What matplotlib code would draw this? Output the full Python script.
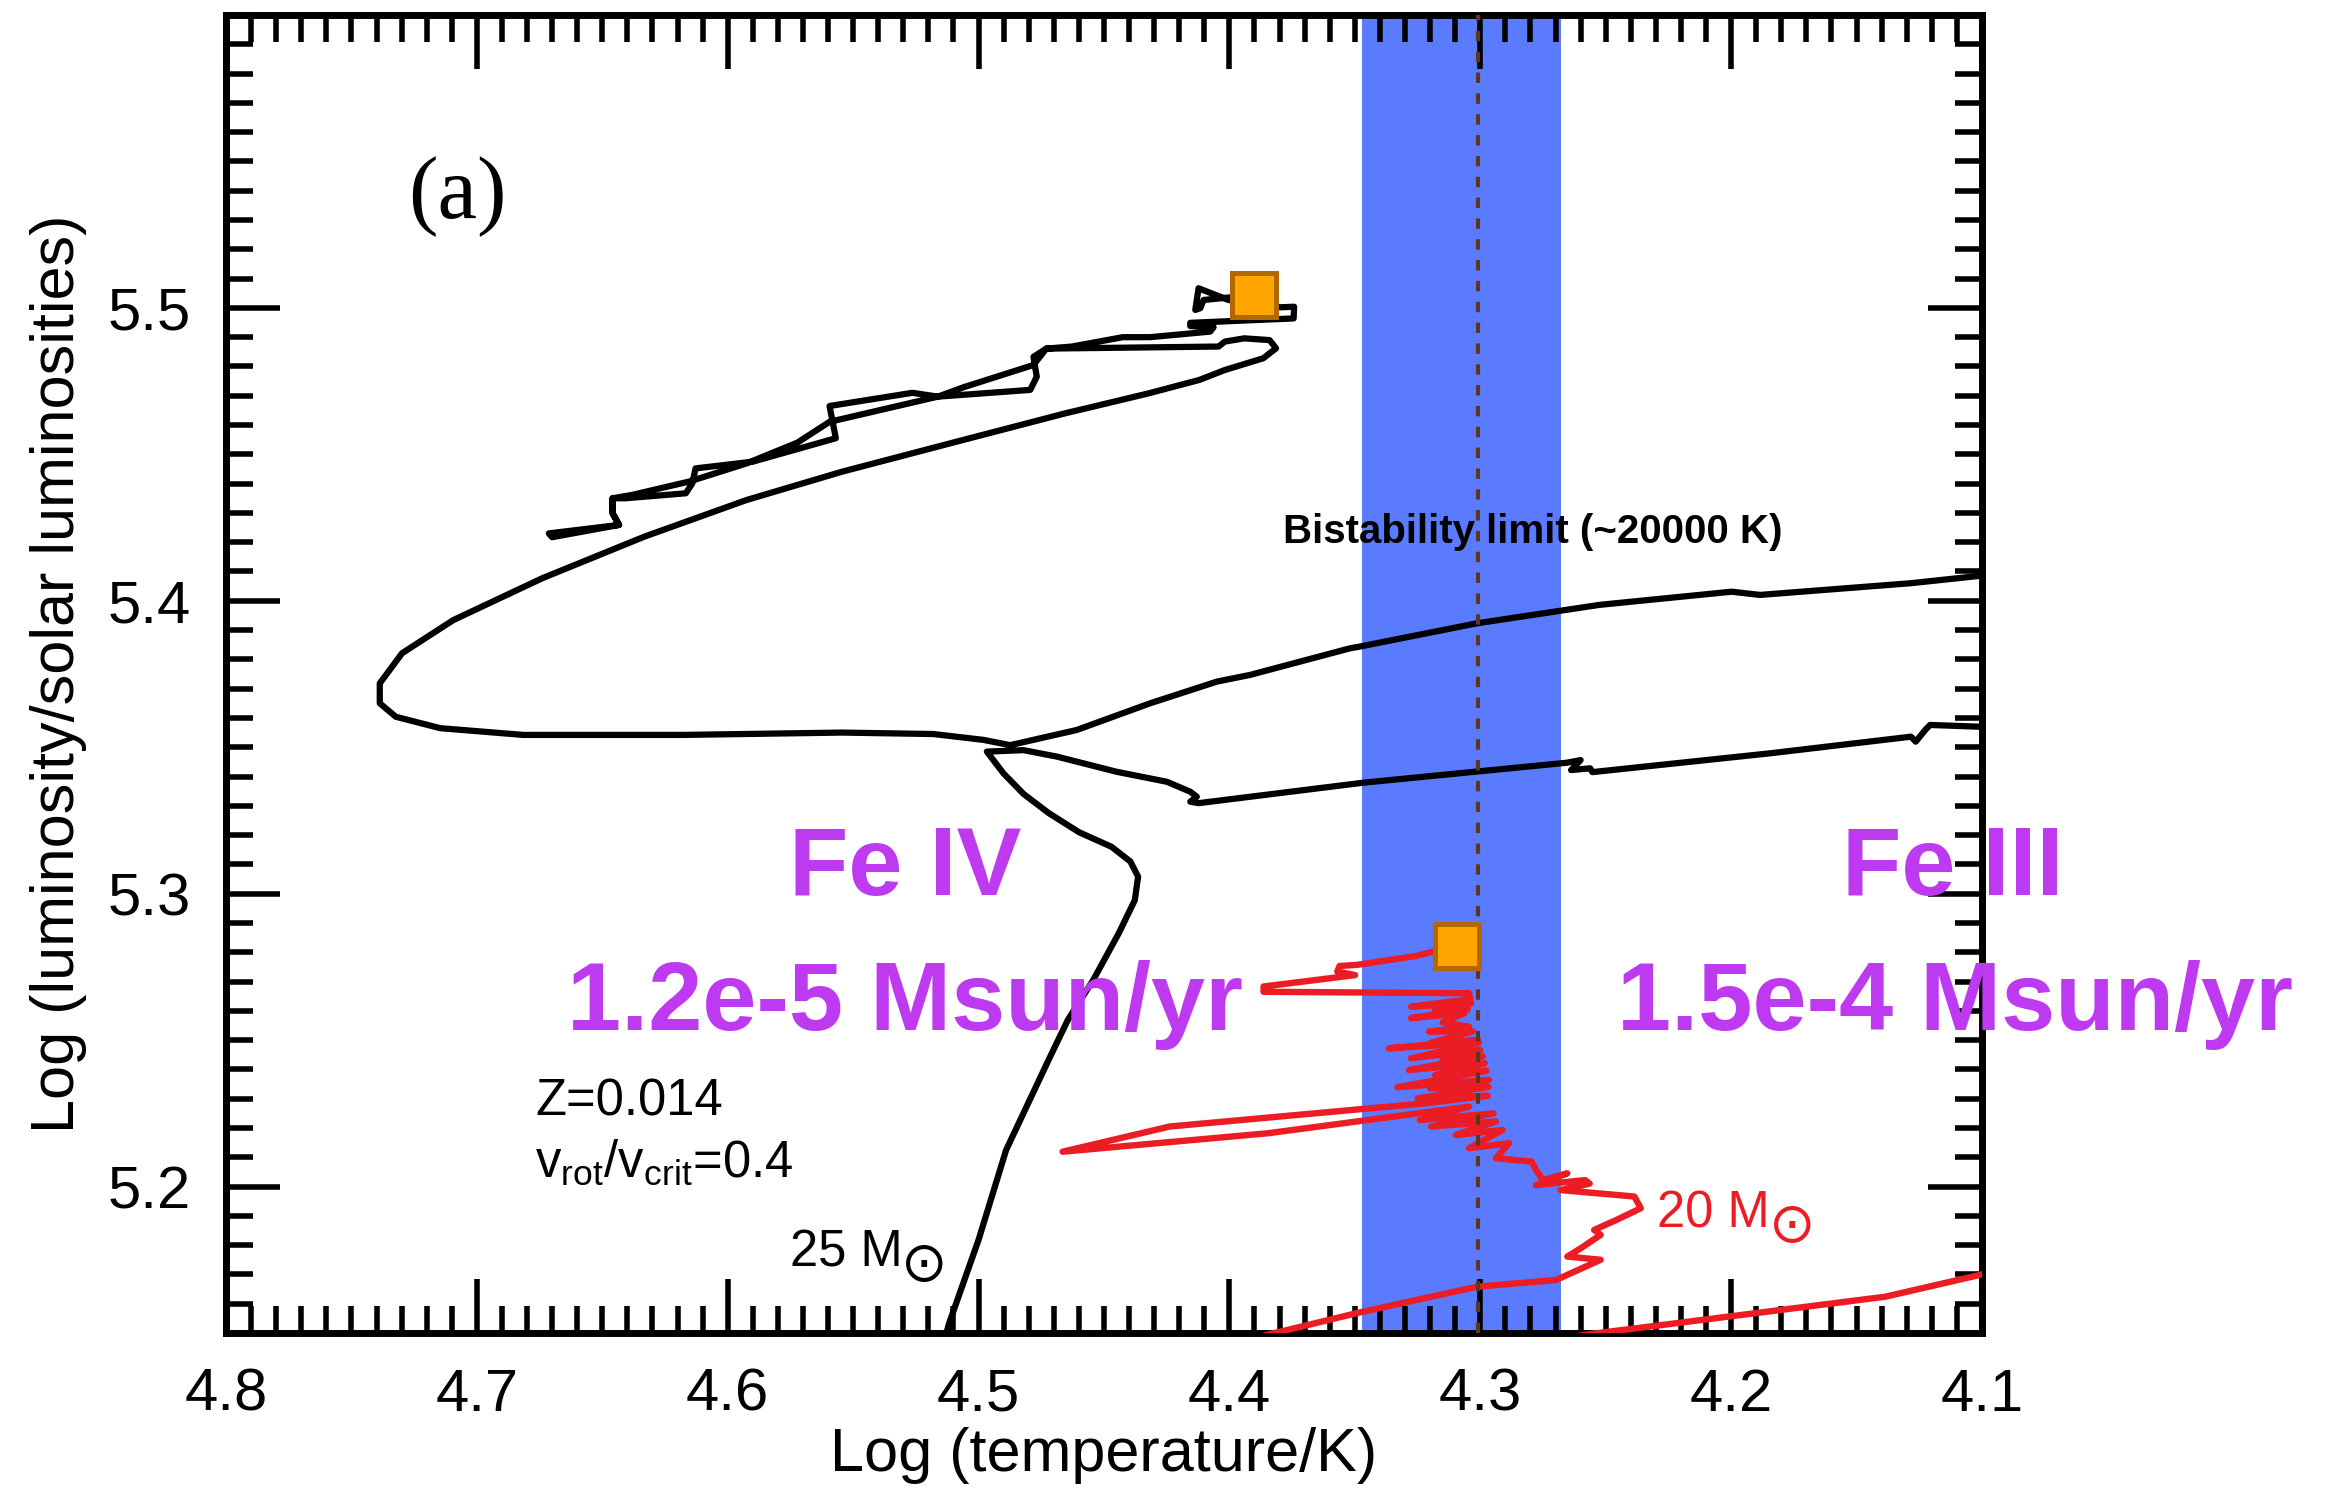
import matplotlib
matplotlib.use("Agg")
import matplotlib.pyplot as plt
from matplotlib.ticker import MultipleLocator

plt.rcParams['font.family'] = ['Liberation Sans', 'DejaVu Sans']
plt.rcParams['mathtext.fontset'] = 'custom'
plt.rcParams['mathtext.rm'] = 'Liberation Sans'
plt.rcParams['mathtext.it'] = 'Liberation Sans:italic'
plt.rcParams['mathtext.bf'] = 'Liberation Sans:bold'

# ---------------- data ----------------
x_ticks = [4.8, 4.7, 4.6, 4.5, 4.4, 4.3, 4.2, 4.1]
x_ticklabels = ['4.8', '4.7', '4.6', '4.5', '4.4', '4.3', '4.2', '4.1']
y_ticks = [5.2, 5.3, 5.4, 5.5]
y_ticklabels = ['5.2', '5.3', '5.4', '5.5']

# bistability band (log T) and the ~20000 K limit
band_logt = [4.268, 4.347]
bistab_logt = 4.30103

# 25 Msun track (log T, log L)
logt_25 = [
    4.516, 4.5117, 4.500, 4.489, 4.4721, 4.4644, 4.4543, 4.4441, 4.4377, 4.4364,
    4.4395, 4.4470, 4.4600, 4.4720, 4.4820, 4.4900, 4.4967,
    4.4821, 4.4688, 4.4449, 4.4249, 4.4156, 4.4130, 4.4156, 4.4123, 4.3917, 4.3465,
    4.3014, 4.2656, 4.2600, 4.2638, 4.2562, 4.2553, 4.1847, 4.1283, 4.1264, 4.1226,
    4.1207, 4.1010, 4.05, 4.00,
    4.00, 4.05, 4.1010, 4.1283, 4.1885, 4.1998, 4.2525, 4.3014, 4.3484, 4.3518,
    4.3917, 4.4050, 4.4316, 4.4608, 4.4874,
    4.4980, 4.5180, 4.5543, 4.6179, 4.6815, 4.7146, 4.7323, 4.7387, 4.7387, 4.7298,
    4.7094, 4.6739, 4.6332, 4.5925, 4.5543, 4.5111, 4.4654, 4.4323, 4.4120, 4.4018,
    4.3865, 4.3814, 4.3840, 4.3941, 4.4018, 4.4043,
    4.4730, 4.4781, 4.4768, 4.4794, 4.5162, 4.5264, 4.5594, 4.5569, 4.5900, 4.6128,
    4.6141, 4.6167, 4.6408, 4.6459, 4.6459, 4.6433, 4.6713, 4.6700,
    4.6433, 4.6459, 4.6459,
    4.6383, 4.6154, 4.5925, 4.5722, 4.5594, 4.5162, 4.5060, 4.4781, 4.4730, 4.4628,
    4.4425, 4.4316, 4.4077, 4.4063, 4.4156, 4.4156, 4.3744, 4.3742, 4.3797, 4.4004,
    4.4123, 4.4136, 4.4116, 4.4103, 4.3901,
]
logl_25 = [
    5.140, 5.1534, 5.1818, 5.2125, 5.2432, 5.2569, 5.2705, 5.2865, 5.2978, 5.3058,
    5.3110, 5.3160, 5.3210, 5.3275, 5.3340, 5.3410, 5.3485,
    5.3490, 5.3468, 5.3416, 5.3382, 5.3348, 5.3331, 5.3314, 5.3309, 5.3331, 5.3379,
    5.3417, 5.3447, 5.3456, 5.3422, 5.3428, 5.3415, 5.3479, 5.3536, 5.3519, 5.3559,
    5.3576, 5.3570, 5.3570, 5.3600,
    5.4100, 5.4090, 5.4085, 5.4060, 5.4020, 5.4031, 5.3986, 5.3923, 5.3843, 5.3838,
    5.3747, 5.3724, 5.3650, 5.3559, 5.3507,
    5.3525, 5.3545, 5.3550, 5.3542, 5.3542, 5.3565, 5.3604, 5.3650, 5.3718, 5.3821,
    5.3934, 5.4077, 5.4219, 5.4344, 5.4441, 5.4538, 5.4640, 5.4708, 5.4754, 5.4788,
    5.4828, 5.4862, 5.4890, 5.4896, 5.4885, 5.4868,
    5.4861, 5.4833, 5.4765, 5.4720, 5.4697, 5.4710, 5.4665, 5.4555, 5.4475, 5.4452,
    5.4401, 5.4367, 5.4350, 5.4350, 5.4299, 5.4259, 5.4230, 5.4217,
    5.4259, 5.4299, 5.4350,
    5.4361, 5.4407, 5.4469, 5.4540, 5.4611, 5.4697, 5.4729, 5.4805, 5.4861, 5.4868,
    5.4900, 5.4900, 5.4919, 5.4934, 5.4938, 5.4949, 5.4964, 5.5004, 5.5002, 5.5027,
    5.5067, 5.4993, 5.4999, 5.5027, 5.5044,
]

# 20 Msun track (log T, log L)
logt_20 = [
    4.05, 4.1010, 4.1385, 4.2011, 4.2528, 4.31, 4.42, 4.3795, 4.3482, 4.3013,
    4.2698, 4.2626, 4.2520, 4.2653, 4.2600, 4.2520, 4.2546, 4.2457, 4.2360, 4.2386,
    4.2680, 4.2564, 4.2582, 4.2778, 4.2653, 4.2751, 4.2778, 4.2795, 4.2938, 4.2885,
    4.3045, 4.2911, 4.3098, 4.2938, 4.3196, 4.2947, 4.3241, 4.3045, 4.3846, 4.4665,
    4.4238, 4.3222, 4.2970, 4.3250, 4.2968, 4.3200, 4.2965, 4.3330, 4.2975, 4.3180,
    4.2982, 4.3285, 4.2990, 4.3150, 4.3000, 4.3276, 4.3005, 4.3365, 4.3009, 4.3200,
    4.3030, 4.3205, 4.3045, 4.3150, 4.3063, 4.3276, 4.3050, 4.3180, 4.3036, 4.3276,
    4.3040, 4.3045, 4.3864, 4.3864, 4.3499, 4.3570, 4.3561, 4.3490, 4.3258, 4.3093,
]
logl_20 = [
    5.1800, 5.1698, 5.1624, 5.1556, 5.1500, 5.143, 5.142, 5.1505, 5.1570, 5.1658,
    5.1681, 5.1709, 5.1750, 5.1761, 5.1789, 5.1835, 5.1852, 5.1886, 5.1926, 5.1966,
    5.1988, 5.2010, 5.2022, 5.2005, 5.2045, 5.2022, 5.2057, 5.2085, 5.2097, 5.2148,
    5.2131, 5.2193, 5.2176, 5.2222, 5.2205, 5.2250, 5.2227, 5.2273, 5.2182, 5.2119,
    5.2205, 5.2284, 5.2310, 5.2301, 5.2340, 5.2335, 5.2364, 5.2339, 5.2395, 5.2380,
    5.2421, 5.2398, 5.2445, 5.2430, 5.2466, 5.2438, 5.2490, 5.2472, 5.2500, 5.2490,
    5.2530, 5.2529, 5.2546, 5.2560, 5.2592, 5.2575, 5.2605, 5.2600, 5.2626, 5.2614,
    5.2640, 5.2660, 5.2665, 5.2683, 5.2722, 5.2734, 5.2753, 5.2757, 5.2787, 5.2822,
]

# marked positions on the two tracks
marker_logt = [4.3901, 4.3093]
marker_logl = [5.5044, 5.2822]

# ---------------- figure ----------------
fig = plt.figure(figsize=(23.31, 14.88), dpi=100)
ax = fig.add_axes([0.09695, 0.10417, 0.75332, 0.88575])
ax.set_xlim(4.8, 4.1)
ax.set_ylim(5.15, 5.6)

red = '#EC1C24'
ax.axvspan(band_logt[0], band_logt[1], color='#5B7BFE', lw=0, zorder=1)
ax.plot(logt_25, logl_25, color='black', lw=4.5, zorder=3)
ax.plot(logt_20, logl_20, color=red, lw=4.6, zorder=3)
ax.axvline(bistab_logt, color='#5E3520', lw=3.0, ls=(0, (2.5, 2.5)), zorder=4)
ax.plot(marker_logt, marker_logl, ls='none', marker='s', ms=32,
        mfc='#FFA500', mec='#B26800', mew=3.6, zorder=6)

purple = '#BE3AF0'
ax.text(4.5293, 5.2996, 'Fe IV', color=purple, fontsize=70, fontweight='bold',
        ha='center', va='baseline', zorder=5)
ax.text(4.5293, 5.2535, '1.2e-5 Msun/yr', color=purple, fontsize=70,
        fontweight='bold', ha='center', va='baseline', zorder=5)
ax.text(4.1118, 5.2996, 'Fe III', color=purple, fontsize=70, fontweight='bold',
        ha='center', va='baseline', zorder=5)
ax.text(4.1106, 5.2535, '1.5e-4 Msun/yr', color=purple, fontsize=70,
        fontweight='bold', ha='center', va='baseline', zorder=5)

ax.text(4.2789, 5.4235, 'Bistability limit (~20000 K)', fontsize=29,
        fontweight='bold', color='black', ha='center', va='center', zorder=5)

ax.text(4.6768, 5.2244, 'Z=0.014', fontsize=36.5, ha='left', va='baseline')
ax.text(4.6768, 5.2034, r'v$_{\rm rot}$/v$_{\rm crit}$=0.4', fontsize=36.5,
        ha='left', va='baseline')


def mass_label(x, y, text, color):
    # mass label followed by a full-size, lowered solar symbol
    t = ax.text(x, y, text, fontsize=36.5, color=color, ha='left',
                va='baseline')
    ax.annotate('\u2299', xy=(1, 0.2), xycoords=t, xytext=(-1, 1.5),
                textcoords='offset points', fontsize=40, color=color,
                family=['DejaVu Sans'], ha='left', va='center')


mass_label(4.5751, 5.1727, '25 M', 'black')
mass_label(4.2294, 5.1859, '20 M', red)

ax.text(0.132, 0.862, '(a)', transform=ax.transAxes, fontsize=64,
        family=['Liberation Serif', 'DejaVu Serif'], ha='center', va='center')

# ---------------- axes styling ----------------
ax.set_xticks(x_ticks)
ax.set_xticklabels(x_ticklabels)
ax.set_yticks(y_ticks)
ax.set_yticklabels(y_ticklabels)
ax.xaxis.set_minor_locator(MultipleLocator(0.01))
ax.yaxis.set_minor_locator(MultipleLocator(0.01))
ax.tick_params(which='both', direction='in', top=True, right=True,
               width=4, color='black')
ax.tick_params(which='major', length=39, pad=25, labelsize=43)
ax.tick_params(which='minor', length=19.5)
for s in ax.spines.values():
    s.set_linewidth(5)

ax.set_xlabel('Log (temperature/K)', fontsize=44)
ax.set_ylabel('Log (luminosity/solar luminosities)', fontsize=44)
ax.xaxis.set_label_coords(0.5, -0.0713)
ax.yaxis.set_label_coords(-0.079, 0.5)

fig.savefig('out.png', dpi=100)
